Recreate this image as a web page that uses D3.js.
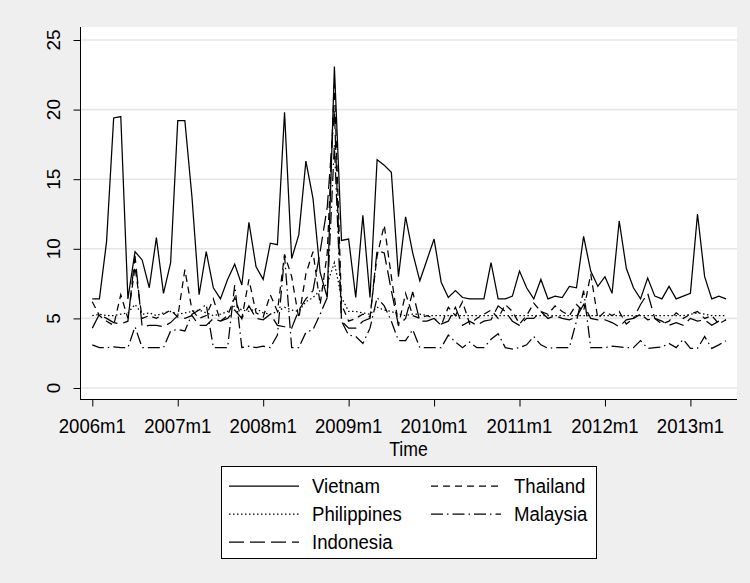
<!DOCTYPE html>
<html>
<head>
<meta charset="utf-8">
<script src="https://cdn.jsdelivr.net/npm/d3@7"></script>
<style>
  body { margin: 0; background: #efefef; }
  svg { display: block; font-family: "Liberation Sans", Arial, sans-serif; }
</style>
</head>
<body>
<script>
// monthly values, 2006m1 .. 2013m6
const tickLabels = ['2006m1', '2007m1', '2008m1', '2009m1', '2010m1', '2011m1', '2012m1', '2013m1']
const yTicks = [0, 5, 10, 15, 20, 25]

const vietnam = [
  6.4, 6.4, 10.5, 19.4, 19.5, 6.4, 9.8, 9.2, 7.2, 10.8,
  6.8, 9.0, 19.2, 19.2, 13.7, 6.7, 9.8, 7.2, 6.4, 7.8,
  8.9, 7.4, 11.9, 8.7, 7.8, 10.4, 10.3, 19.8, 9.3, 11.0,
  16.3, 13.6, 8.3, 6.5, 23.1, 10.6, 10.7, 6.5, 12.4, 6.5,
  16.4, 16.0, 15.5, 8.0, 12.3, 9.7, 7.7, 9.2, 10.7, 7.6,
  6.5, 7.0, 6.5, 6.4, 6.4, 6.4, 9.0, 6.4, 6.4, 6.6,
  8.4, 7.2, 6.4, 7.8, 6.4, 6.6, 6.5, 7.3, 7.2, 10.9,
  8.4, 7.3, 8.0, 6.8, 12.0, 8.6, 7.2, 6.4, 7.9, 6.6,
  6.4, 7.3, 6.4, 6.6, 6.8, 12.5, 8.0, 6.4, 6.6, 6.4
]
const thailand = [
  6.2, 5.2, 4.8, 4.5, 6.7, 5.0, 8.7, 5.0, 5.2, 5.0,
  5.3, 5.6, 5.1, 8.5, 5.6, 5.0, 5.2, 6.4, 4.8, 5.2,
  6.5, 5.0, 7.8, 5.4, 5.1, 6.7, 5.5, 9.6, 8.0, 5.0,
  8.2, 9.8, 6.0, 9.7, 21.8, 6.0, 4.8, 5.0, 5.3, 5.1,
  9.5, 11.7, 8.0, 4.5, 6.8, 5.2, 5.0, 5.2, 5.0, 4.5,
  5.8, 5.2, 6.2, 4.6, 5.0, 5.3, 5.6, 5.0, 6.0, 5.5,
  4.6, 5.2, 6.1, 5.5, 5.3, 5.9, 5.5, 5.2, 6.0, 5.5,
  8.2, 5.0, 5.5, 5.2, 5.5, 4.6, 5.0, 5.3, 4.9, 5.0,
  4.6, 4.8, 5.4, 5.0, 5.3, 5.5, 5.0, 5.2, 4.6, 4.9
]
const philippines = [
  5.2, 5.3, 5.2, 5.2, 5.3, 5.4, 6.0, 5.3, 5.4, 5.2,
  5.4, 5.5, 5.3, 5.4, 5.5, 5.6, 5.4, 5.2, 5.3, 5.5,
  5.9, 5.6, 5.5, 5.7, 5.4, 5.3, 5.5, 5.8, 5.6, 5.5,
  6.2, 6.5, 7.0, 7.5, 9.0, 6.5, 5.5, 5.5, 5.4, 5.3,
  5.8, 5.6, 5.5, 5.3, 5.2, 5.3, 5.3, 5.2, 5.2, 5.2,
  5.2, 5.2, 5.2, 5.2, 5.2, 5.2, 5.2, 5.2, 5.2, 5.2,
  5.2, 5.2, 5.2, 5.2, 5.2, 5.2, 5.2, 5.2, 5.2, 5.2,
  5.2, 5.2, 5.2, 5.2, 5.2, 5.2, 5.2, 5.2, 5.2, 5.2,
  5.2, 5.2, 5.2, 5.2, 5.3, 5.4, 5.3, 5.2, 5.2, 5.2
]
const malaysia = [
  3.1, 2.9, 2.9, 2.95, 2.9, 2.9, 4.4, 2.9, 2.9, 2.9,
  2.9, 4.1, 4.2, 4.1, 5.3, 5.6, 6.0, 2.9, 2.9, 2.9,
  7.4, 2.9, 3.0, 2.9, 3.0, 2.9, 3.8, 9.5, 2.9, 2.9,
  4.0, 4.2, 5.3, 6.5, 17.5, 4.8, 3.8, 3.7, 3.2, 4.3,
  6.5, 5.9, 4.8, 3.4, 3.4, 4.2, 2.9, 2.9, 2.9, 2.9,
  3.8, 3.3, 2.9, 3.3, 2.9, 2.9, 3.5, 3.9, 2.9, 2.8,
  2.9, 3.1, 3.7, 3.1, 2.85, 2.9, 2.9, 2.9, 4.8, 7.0,
  2.9, 2.9, 2.9, 3.0, 2.95, 2.9, 2.9, 3.4, 2.85, 2.9,
  2.95, 3.2, 2.9, 3.5, 2.85, 2.85, 3.7, 2.85, 3.1, 3.4
]
const indonesia = [
  4.3, 5.3, 5.0, 4.7, 4.6, 4.8, 9.5, 4.4, 4.5, 4.5,
  4.4, 4.7, 5.2, 5.0, 5.2, 4.5, 4.5, 5.0, 4.8, 5.0,
  5.6, 5.0, 5.9, 5.0, 4.9, 5.3, 4.5, 4.4, 4.3, 5.6,
  6.4, 7.0, 9.8, 13.0, 20.0, 4.8, 4.3, 4.3, 4.8, 5.0,
  9.9, 9.7, 7.0, 4.5, 5.0, 6.9, 4.8, 4.8, 5.0, 4.6,
  4.8, 5.8, 4.5, 4.8, 4.5, 4.8, 4.9, 5.9, 5.5, 4.8,
  4.5, 5.0, 5.0, 5.5, 5.0, 5.2, 5.0, 4.9, 5.1, 6.0,
  5.0, 4.9, 4.9, 4.7, 4.4, 4.9, 5.0, 6.0, 6.8, 5.0,
  4.8, 4.5, 4.7, 4.5, 5.0, 4.8, 4.9, 4.5, 4.8, 4.9
]

const series = [
  { name: 'Vietnam', values: vietnam, dash: null },
  { name: 'Thailand', values: thailand, dash: '7,5' },
  { name: 'Philippines', values: philippines, dash: '1.5,2.5' },
  { name: 'Malaysia', values: malaysia, dash: '12,4,1.5,4' },
  { name: 'Indonesia', values: indonesia, dash: '15,6' },
]

;(function() {
  const WIDTH = 750
  const HEIGHT = 583
  const plotLeft = 80, plotRight = 737, plotTop = 27, plotBottom = 399

  const svg = d3.select('body')
    .append('svg')
    .attr('width', WIDTH)
    .attr('height', HEIGHT)

  svg.append('rect')
    .attr('width', WIDTH)
    .attr('height', HEIGHT)
    .attr('fill', '#efefef')

  svg.append('rect')
    .attr('x', plotLeft)
    .attr('y', plotTop)
    .attr('width', plotRight - plotLeft)
    .attr('height', plotBottom - plotTop)
    .attr('fill', 'white')

  const x = d3.scaleLinear().domain([0, 89]).range([92.3, 726])
  const y = d3.scaleLinear().domain([0, 25]).range([388, 40])

  // grid
  svg.append('g')
    .selectAll('line')
    .data(yTicks)
    .enter()
    .append('line')
    .attr('x1', plotLeft)
    .attr('x2', plotRight)
    .attr('y1', d => y(d))
    .attr('y2', d => y(d))
    .attr('stroke', '#e6e6e6')
    .attr('stroke-width', 1.6)

  // series
  const line = d3.line()
    .x((d, i) => x(i))
    .y(d => y(d))

  svg.append('g')
    .selectAll('path')
    .data(series)
    .enter()
    .append('path')
    .attr('d', d => line(d.values))
    .attr('fill', 'none')
    .attr('stroke', 'black')
    .attr('stroke-width', 1.25)
    .attr('stroke-dasharray', d => d.dash)

  // axes
  const yAxis = svg.append('g')
    .attr('transform', `translate(${plotLeft + 0.5},0)`)
    .call(d3.axisLeft(y).tickValues(yTicks).tickSize(7).tickSizeOuter(0).tickFormat(''))
  yAxis.select('.domain').remove()
  yAxis.selectAll('line').attr('stroke', 'black')

  const xAxis = svg.append('g')
    .attr('transform', `translate(0,${plotBottom + 0.5})`)
    .call(d3.axisBottom(x).tickValues(d3.range(0, 90, 12)).tickSize(7).tickSizeOuter(0).tickFormat(''))
  xAxis.select('.domain').remove()
  xAxis.selectAll('line').attr('stroke', 'black')

  svg.append('line')
    .attr('x1', plotLeft + 0.5).attr('x2', plotLeft + 0.5)
    .attr('y1', plotTop).attr('y2', plotBottom + 0.5)
    .attr('stroke', 'black')
  svg.append('line')
    .attr('x1', plotLeft).attr('x2', plotRight)
    .attr('y1', plotBottom + 0.5).attr('y2', plotBottom + 0.5)
    .attr('stroke', 'black')

  svg.append('g')
    .selectAll('text')
    .data(yTicks)
    .enter()
    .append('text')
    .attr('transform', d => `translate(60,${y(d)}) scale(0.93,1) rotate(-90)`)
    .attr('text-anchor', 'middle')
    .attr('font-size', 19)
    .attr('fill', '#000')
    .text(d => d)

  svg.append('g')
    .selectAll('text')
    .data(tickLabels)
    .enter()
    .append('text')
    .attr('transform', (d, i) => `translate(${x(i * 12)},433) scale(0.93,1.05)`)
    .attr('text-anchor', 'middle')
    .attr('font-size', 20)
    .attr('fill', '#000')
    .text(d => d)

  svg.append('text')
    .attr('transform', `translate(${(plotLeft + plotRight) / 2},456) scale(0.93,1.05)`)
    .attr('text-anchor', 'middle')
    .attr('font-size', 19)
    .attr('fill', '#000')
    .text('Time')

  // legend
  const legend = svg.append('g')
  legend.append('rect')
    .attr('x', 221.5)
    .attr('y', 466.5)
    .attr('width', 375)
    .attr('height', 92)
    .attr('fill', 'white')
    .attr('stroke', 'black')

  const items = legend.selectAll('g.item')
    .data(series)
    .enter()
    .append('g')
    .attr('class', 'item')
    .attr('transform', (d, i) => `translate(${i % 2 ? 431 : 229},${486 + Math.floor(i / 2) * 28})`)

  items.append('line')
    .attr('x1', 0).attr('x2', 70)
    .attr('stroke', 'black')
    .attr('stroke-width', 1.25)
    .attr('stroke-dasharray', d => d.dash)

  items.append('text')
    .attr('transform', 'translate(83,7) scale(0.93,1.05)')
    .attr('font-size', 20)
    .attr('fill', '#000')
    .text(d => d.name)
})()
</script>
</body>
</html>
